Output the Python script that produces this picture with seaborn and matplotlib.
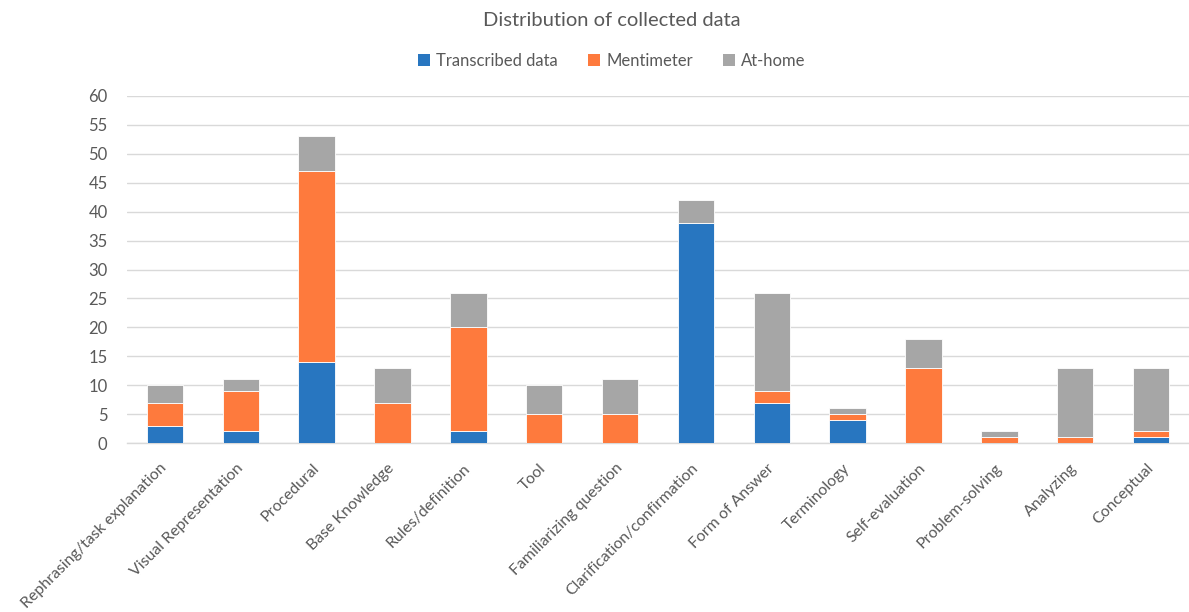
import matplotlib
matplotlib.use("Agg")
import matplotlib.pyplot as plt
import matplotlib.transforms as mtransforms
from matplotlib.patches import Patch
import numpy as np
import seaborn as sns

categories = [
    "Rephrasing/task explanation", "Visual Representation", "Procedural",
    "Base Knowledge", "Rules/definition", "Tool", "Familiarizing question",
    "Clarification/confirmation", "Form of Answer", "Terminology",
    "Self-evaluation", "Problem-solving", "Analyzing", "Conceptual",
]
transcribed = [3, 2, 14, 0, 2, 0, 0, 38, 7, 4, 0, 0, 0, 1]
mentimeter = [4, 7, 33, 7, 18, 5, 5, 0, 2, 1, 13, 1, 1, 1]
at_home = [3, 2, 6, 6, 6, 5, 6, 4, 17, 1, 5, 1, 12, 11]

series_names = ["Transcribed data", "Mentimeter", "At-home"]
colors = ["#2876C0", "#FE7A3D", "#A6A6A6"]
text_color = "#595959"

sns.set_theme(style="white")
plt.rcParams["font.family"] = ["Lato", "DejaVu Sans"]

fig = plt.figure(figsize=(11.89, 6.12), dpi=100)
ax = fig.add_axes([127 / 1189, 169 / 612, 1062 / 1189, 347 / 612])

bottom = np.zeros(len(categories))
for name, vals, col in zip(series_names, [transcribed, mentimeter, at_home], colors):
    sns.barplot(x=categories, y=vals, bottom=bottom, color=col, width=0.48,
                saturation=1, edgecolor="white", linewidth=0.6, ax=ax, zorder=3)
    bottom = bottom + np.array(vals)

ax.set_ylim(0, 60)
ax.set_xlim(-0.5, len(categories) - 0.5)
ax.set_yticks(np.arange(0, 61, 5))
ax.yaxis.grid(True, color="#D9D9D9", linewidth=1.0, zorder=0)
ax.xaxis.grid(False)
for s in ["top", "right", "left"]:
    ax.spines[s].set_visible(False)
ax.spines["bottom"].set_color("#D9D9D9")
ax.spines["bottom"].set_linewidth(1.0)
ax.set_xlabel("")
ax.set_ylabel("")
ax.tick_params(axis="y", length=0, pad=14, labelsize=12, labelcolor=text_color)
ax.tick_params(axis="x", length=0, pad=8, labelsize=11.4, labelcolor=text_color)
ax.set_xticks(range(len(categories)))
ax.set_xticklabels(categories, rotation=45, ha="right", va="top",
                   rotation_mode="anchor")
shift = mtransforms.ScaledTranslation(-5 / 100, -7 / 100, fig.dpi_scale_trans)
for lbl in ax.get_xticklabels():
    lbl.set_transform(lbl.get_transform() + shift)

fig.text(612 / 1189, 1 - 20 / 612, "Distribution of collected data",
         ha="center", va="center", fontsize=14.5, color=text_color)

handles = [Patch(facecolor=c, edgecolor="none") for c in colors]
fig.legend(handles, series_names, loc="center", ncol=3,
           bbox_to_anchor=(612 / 1189, 1 - 61 / 612), frameon=False,
           fontsize=12, labelcolor=text_color, handlelength=0.7,
           handleheight=0.7, handletextpad=0.4, columnspacing=1.8)

fig.savefig("out.png", dpi=100)
